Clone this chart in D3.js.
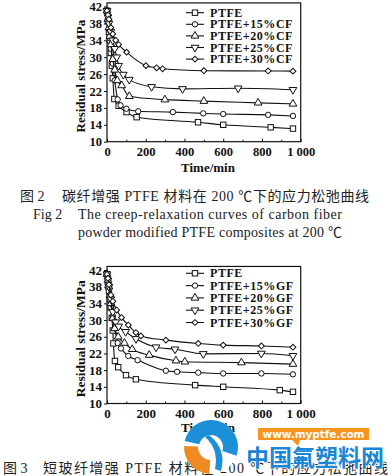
<!DOCTYPE html>
<html><head><meta charset="utf-8">
<script src="https://cdn.jsdelivr.net/npm/d3@7"></script>
<style>body{margin:0;background:#fff}svg{display:block}</style>
</head><body><svg id="c" width="392" height="476"></svg>
<script>
// ---- data ----
const yTicks = [10, 14, 18, 22, 26, 30, 34, 38, 42];
const xTicks = [0, 200, 400, 600, 800, 1000];
const xTickLabels = ["0", "200", "400", "600", "800", "1 000"];
const cfLabels = ["PTFE", "PTFE+15%CF", "PTFE+20%CF", "PTFE+25%CF", "PTFE+30%CF"];
const gfLabels = ["PTFE", "PTFE+15%GF", "PTFE+20%GF", "PTFE+25%GF", "PTFE+30%GF"];
const markerTypes = ["square", "circle", "triangle", "invtriangle", "diamond"];

const cfPTFE = [[0,41],[5,38.5],[10,36],[15,34],[20,31],[25,28],[30,25],[38,20.1],[60,18.5],[101,17.0],[153,15.8],[470,14.6],[600,14.0],[845,13.4],[960,13.1]];
const cf15 = [[0,41],[5,38.5],[10,36.5],[15,34.5],[20,32],[30,28.5],[40,24.5],[55,20],[70,18.6],[100,17.8],[161,17.2],[340,17.0],[497,16.7],[600,16.55],[832,16.35],[960,16.1]];
const cf20 = [[0,41],[5,39],[10,37],[15,35],[20,33],[30,29.5],[40,27],[53,24.5],[76,23.3],[115,20.75],[299,19.95],[500,19.6],[780,19.2],[960,18.95]];
const cf25 = [[0,41],[5,39.5],[10,38],[20,36],[30,34],[40,32],[50,30],[60,28],[84,25.9],[115,24.7],[230,23.0],[390,22.5],[677,22.65],[960,22.3]];
const cf30 = [[0,41],[5,40],[10,39],[20,37],[30,35.5],[45,34],[60,33],[101,31.2],[201,28.0],[256,27.5],[287,27.25],[500,26.8],[832,26.75],[960,26.7]];

const gfPTFE = [[0,41],[5,39],[10,37],[15,35],[20,33],[25,30.5],[30,27.5],[33,24.4],[41,20.2],[58,18.7],[98,16.8],[149,15.8],[455,14.4],[600,14.0],[892,13.2],[960,12.8]];
const gf15 = [[0,41],[5,39.5],[10,38],[15,36],[20,34],[30,31],[40,28],[55,24.5],[72,23.2],[110,21.4],[158,20.4],[304,17.85],[362,17.6],[471,17.4],[600,17.2],[797,17.2],[960,17.0]];
const gf20 = [[0,41],[5,39.5],[10,38],[15,36],[20,34],[30,30.5],[40,28],[58,26.0],[90,24.5],[130,23],[218,21.6],[356,20.25],[402,20.0],[694,19.8],[960,19.45]];
const gf25 = [[0,41],[5,39.5],[10,38],[20,35],[30,32],[45,29.5],[60,28.5],[96,27.2],[150,25.5],[253,23.5],[351,23.0],[497,21.9],[797,22.0],[960,21.45]];
const gf30 = [[0,41],[5,40],[10,38.5],[20,36],[30,34.5],[50,32.4],[75,30.6],[110,28.8],[149,27.0],[175,26.2],[304,25.2],[471,24.4],[600,24.0],[797,23.8],[960,23.5]];

const cfSeries = [cfPTFE, cf15, cf20, cf25, cf30];
const gfSeries = [gfPTFE, gf15, gf20, gf25, gf30];

const svg = d3.select("#c");
const AX = '"Liberation Serif","Times New Roman",serif';
const CJK = '"Liberation Serif","Noto Sans CJK SC",serif';

function marker(g, type, x, y) {
  const s = 2.7;
  let el;
  if (type === "square") el = g.append("rect").attr("x", x - s).attr("y", y - s).attr("width", 2*s).attr("height", 2*s);
  else if (type === "circle") el = g.append("circle").attr("cx", x).attr("cy", y).attr("r", s);
  else {
    const sym = {triangle: d3.symbolTriangle, invtriangle: d3.symbolTriangle, diamond: d3.symbolSquare}[type];
    el = g.append("path").attr("d", d3.symbol().type(sym).size(type === "diamond" ? 17 : 26)())
      .attr("transform", `translate(${x},${y}) rotate(${type === "invtriangle" ? 180 : type === "diamond" ? 45 : 0})`);
  }
  el.attr("fill", "#fff").attr("stroke", "#111").attr("stroke-width", 1);
}

function drawChart(o) {
  const x = d3.scaleLinear().domain([0, 1000]).range([107, 300.7]);
  const y = d3.scaleLinear().domain([10, 42]).range([o.y10, o.y42]);
  const g = svg.append("g");
  g.append("rect").attr("x", x(0)).attr("y", y(42.85)).attr("width", x(1000) - x(0)).attr("height", y(10) - y(42.85))
    .attr("fill", "none").attr("stroke", "#111").attr("stroke-width", 1.2);
  const ya = g.append("g").attr("transform", `translate(${x(0)},0)`)
    .call(d3.axisLeft(y).tickValues(yTicks).tickSize(3).tickPadding(2));
  ya.select(".domain").remove();
  ya.selectAll("text").attr("font-family", AX).attr("font-weight", "bold").attr("font-size", o.fs).attr("fill", "#111");
  ya.selectAll("line").attr("stroke", "#111");
  const xa = g.append("g").attr("transform", `translate(0,${y(10)})`)
    .call(d3.axisBottom(x).tickValues(xTicks).tickSize(-3).tickPadding(5).tickFormat((d, i) => xTickLabels[i]));
  xa.select(".domain").remove();
  xa.selectAll("text").attr("font-family", AX).attr("font-weight", "bold").attr("font-size", o.fs).attr("fill", "#111");
  xa.selectAll("line").attr("stroke", "#111");
  const xm = g.append("g").attr("transform", `translate(0,${y(10)})`)
    .call(d3.axisBottom(x).tickValues(d3.range(100, 1000, 200)).tickSize(-2).tickFormat(""));
  xm.select(".domain").remove();
  xm.selectAll("line").attr("stroke", "#111");
  g.append("text").attr("x", 208).attr("y", o.xTitleY).attr("text-anchor", "middle")
    .attr("font-family", AX).attr("font-weight", "bold").attr("font-size", 13).attr("fill", "#111").text("Time/min");
  g.append("text").attr("transform", `translate(85,${(y(10) + y(42)) / 2 + 2}) rotate(-90)`).attr("text-anchor", "middle")
    .attr("font-family", AX).attr("font-weight", "bold").attr("font-size", o.fs + 0.5).attr("fill", "#111").text("Residual stress/MPa");
  const line = d3.line().x(d => x(d[0])).y(d => y(d[1])).curve(d3.curveMonotoneX);
  o.series.forEach((s, i) => {
    g.append("path").attr("d", line(s)).attr("fill", "none").attr("stroke", "#111").attr("stroke-width", 1.1);
    s.forEach(d => marker(g, markerTypes[i], x(d[0]), y(d[1])));
  });
  o.labels.forEach((lab, i) => {
    const ly = o.legY + i * o.legStep;
    g.append("line").attr("x1", 186).attr("x2", 204).attr("y1", ly).attr("y2", ly).attr("stroke", "#111").attr("stroke-width", 1.1);
    marker(g, markerTypes[i], 195, ly);
    g.append("text").attr("x", 210).attr("y", ly + 4).attr("font-family", AX).attr("font-weight", "bold")
      .attr("font-size", 12).attr("letter-spacing", 0.55).attr("fill", "#111").text(lab);
  });
}

drawChart({series: cfSeries, labels: cfLabels, y10: 141.7, y42: 6.5, fs: 12.5, xTitleY: 172, legY: 12.7, legStep: 11.6});
drawChart({series: gfSeries, labels: gfLabels, y10: 403.5, y42: 270, fs: 13, xTitleY: 432, legY: 273.3, legStep: 12.3});

function cap(xp, yp, txt, len) {
  const t = svg.append("text").attr("x", xp).attr("y", yp).attr("font-family", CJK).attr("font-size", 14).attr("fill", "#222").text(txt);
  if (len) t.attr("textLength", len).attr("lengthAdjust", "spacing");
  return t;
}
cap(20, 201, "图 2");
cap(62, 201, "碳纤增强 PTFE 材料在 200 ℃下的应力松弛曲线", 307);
cap(33, 219, "Fig 2");
cap(78, 219, "The creep-relaxation curves of carbon fiber", 264);
cap(78, 237, "powder modified PTFE composites at 200 ℃", 264);
cap(3, 473, "图 3");
cap(43, 473, "短玻纤增强 PTFE 材料在 200 ℃下的应力松弛曲线", 345);

// watermark
const wm = svg.append("g");
const cx = 211, cy = 447;
wm.append("circle").attr("cx", cx).attr("cy", cy).attr("r", 27).attr("fill", "#fff");
wm.append("path").attr("transform", `translate(${cx},${cy})`)
  .attr("d", d3.arc().innerRadius(12).outerRadius(27).startAngle(-1.35).endAngle(1.9)()).attr("fill", "#1b8fd8");
wm.append("path").attr("transform", `translate(${cx},${cy})`)
  .attr("d", d3.arc().innerRadius(13).outerRadius(27).startAngle(3.2).endAngle(4.75)()).attr("fill", "#f08a24");
wm.append("path").attr("d", `M${cx-6},${cy-10} Q${cx+8},${cy+2} ${cx+4},${cy+22} L${cx+10},${cy+24} Q${cx+16},${cy+2} ${cx-2},${cy-12} Z`).attr("fill", "#1b8fd8");
wm.append("rect").attr("x", 258).attr("y", 428).attr("width", 111).attr("height", 12).attr("rx", 1).attr("fill", "#f7931e");
wm.append("path").attr("d", "M292,440 L298,446 L300,440 Z").attr("fill", "#f7931e");
wm.append("text").attr("x", 313.5).attr("y", 437.6).attr("text-anchor", "middle").attr("font-family", '"DejaVu Sans",sans-serif')
  .attr("font-weight", "bold").attr("font-size", 10.5).attr("textLength", 102).attr("fill", "#fff").text("www.myptfe.com");
wm.append("text").attr("x", 246).attr("y", 466).attr("font-family", '"Noto Sans CJK SC",sans-serif').attr("font-weight", "bold")
  .attr("font-size", 23).attr("textLength", 138).attr("fill", "#1a86d6").attr("stroke", "#fff").attr("stroke-width", 1.5)
  .attr("paint-order", "stroke").text("中国氟塑料网");
</script></body></html>
